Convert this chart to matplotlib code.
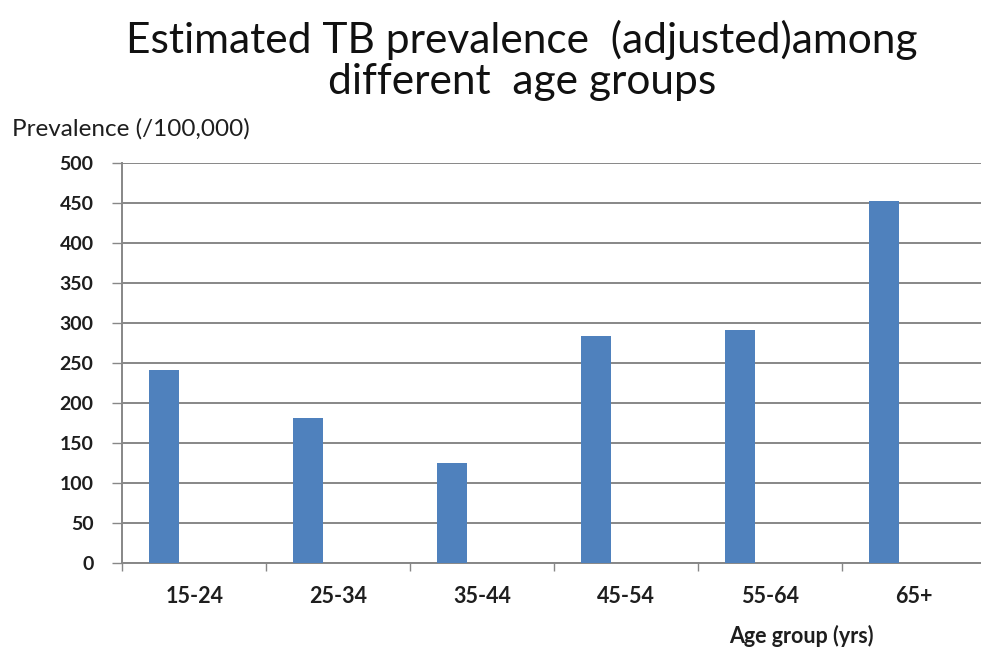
import matplotlib
matplotlib.use("Agg")
import matplotlib.pyplot as plt
from matplotlib.ticker import FixedLocator

plt.rcParams['font.family'] = ['Lato', 'DejaVu Sans']

age_groups = ["15-24", "25-34", "35-44", "45-54", "55-64", "65+"]
prevalence = [241, 181, 125, 284, 291, 453]
y_ticks = [0, 50, 100, 150, 200, 250, 300, 350, 400, 450, 500]

W, H = 981, 649
fig = plt.figure(figsize=(W / 100, H / 100), dpi=100)
fig.patch.set_facecolor("white")

left, right, top, bottom = 122.3, 986.0, 163.0, 563.3
ax = fig.add_axes([left / W, 1 - bottom / H, (right - left) / W, (bottom - top) / H])

grid_col = "#878787"
bar_col = "#4F81BD"
text_col = "#1e1e1e"

x = list(range(len(age_groups)))
bar_w = 0.208
ax.bar([i - 0.21 for i in x], prevalence, width=bar_w, color=bar_col,
       edgecolor="none", zorder=3)

ax.set_xlim(-0.5, len(age_groups) - 0.5)
ax.set_ylim(0, 500)
ax.set_yticks(y_ticks)
ax.set_yticklabels([str(v) for v in y_ticks])
ax.yaxis.grid(True, color=grid_col, linewidth=1.4)
ax.set_axisbelow(True)

ax.set_xticks(x)
ax.set_xticklabels(age_groups)
ax.xaxis.set_minor_locator(FixedLocator([i - 0.5 for i in range(len(age_groups) + 1)]))

for s in ("top", "right"):
    ax.spines[s].set_visible(False)
for s in ("left", "bottom"):
    ax.spines[s].set_color(grid_col)
    ax.spines[s].set_linewidth(1.4)

ax.tick_params(axis="y", length=7.2, width=1.0, color=grid_col, pad=13.5,
               labelsize=14, labelcolor=text_col)
ax.tick_params(axis="x", which="major", length=0, pad=16,
               labelsize=15.5, labelcolor=text_col)
ax.tick_params(axis="x", which="minor", length=6, width=1.0, color=grid_col)
for lab in ax.get_yticklabels() + ax.get_xticklabels():
    lab.set_fontweight("bold")

fig.text(521.5 / W, 1 - 53 / H, "Estimated TB prevalence  (adjusted)among",
         ha="center", va="baseline", fontsize=30.6, color="#111111")
fig.text(522 / W, 1 - 94 / H, "different  age groups",
         ha="center", va="baseline", fontsize=30.6, color="#111111")
fig.text(12 / W, 1 - 136 / H, "Prevalence (/100,000)", ha="left", va="baseline",
         fontsize=17.5, color=text_col)
fig.text(801.5 / W, 1 - 643 / H, "Age group (yrs)", ha="center", va="baseline",
         fontsize=15.5, color=text_col, fontweight="bold")

fig.savefig("out.png", dpi=100, facecolor="white")
